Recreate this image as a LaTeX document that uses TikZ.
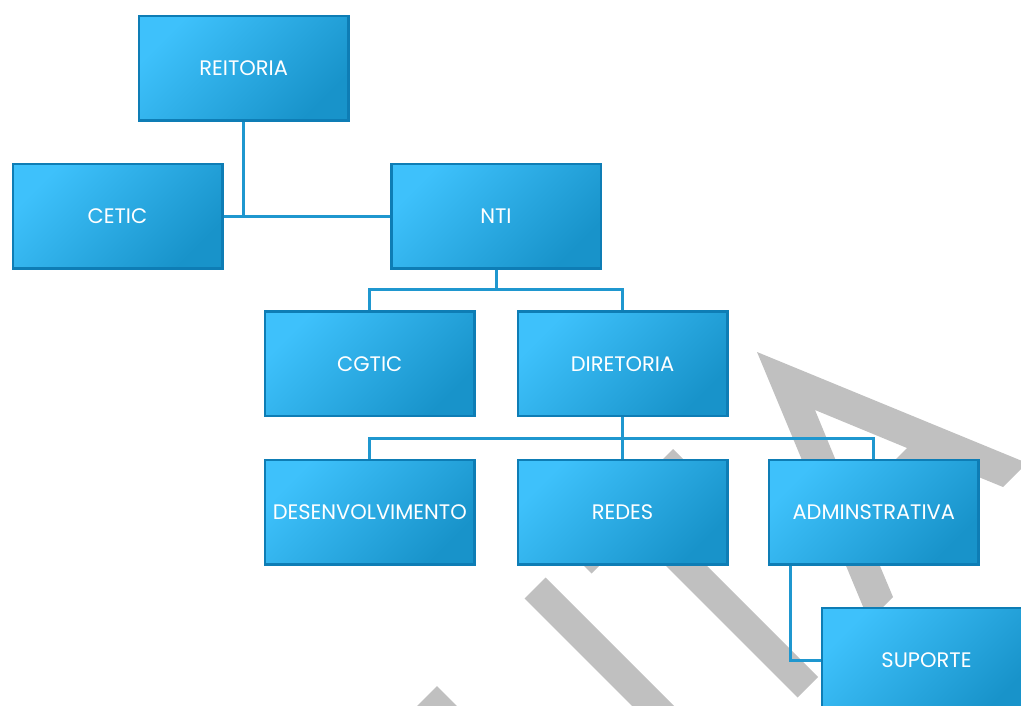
\documentclass[tikz,border=0pt]{standalone}
\usepackage{fontspec}
\setmainfont{Poppins}
\definecolor{boxlight}{HTML}{3EC1FB}
\definecolor{boxmid}{HTML}{35B6EE}
\definecolor{boxdark}{HTML}{1893CA}
\definecolor{boxborder}{HTML}{0E7DB5}
\definecolor{linkc}{HTML}{1F97CF}
\definecolor{wm}{HTML}{C0C0C0}
\tikzset{
  orgbox/.style={draw=boxborder, line width=2.5pt,
    top color=boxlight, middle color=boxmid, bottom color=boxdark, shading angle=45,
    minimum width=209.5pt, minimum height=104.5pt, inner sep=0pt,
    text=white, font=\fontsize{21}{23}\selectfont},
  link/.style={draw=linkc, line width=3pt},
  wmark/.style={fill=wm, draw=none}
}
\begin{document}
\begin{tikzpicture}[x=1pt,y=-1pt]
\useasboundingbox (0,0) rectangle (1021,706);
\clip (0,0) rectangle (1021,706);
% watermark letters
\path[wmark, even odd rule]
  (757,352) -- (1027,463) -- (1003,487) -- (937,460) -- (865.5,531.5) -- (893,597) -- (869,621) -- cycle
  (815,410) -- (907,448) -- (853,502) -- cycle;
\path[wmark] (673,449) -- (570,552) -- (591.5,573.5) -- (694.5,470.5) -- cycle;
\path[wmark] (631.5,490.5) -- (611,511) -- (797.5,697.5) -- (818,677) -- cycle;
\path[wmark] (545.5,577.5) -- (524.5,598.5) -- (713,787) -- (734,766) -- cycle;
\path[wmark] (437,686) -- (416,707) -- (604.5,895.5) -- (625.5,874.5) -- cycle;
% boxes
\node[orgbox] (reitoria) at (243.7,68.3) {REITORIA};
\node[orgbox] (cetic) at (117.5,216.3) {CETIC};
\node[orgbox] (nti) at (496,216.3) {NTI};
\node[orgbox] (cgtic) at (369.8,363.7) {CGTIC};
\node[orgbox] (diretoria) at (622.5,363.7) {DIRETORIA};
\node[orgbox] (desenv) at (369.8,512) {DESENVOLVIMENTO};
\node[orgbox] (redes) at (622.5,512) {REDES};
\node[orgbox] (admin) at (873.8,512) {ADMINSTRATIVA};
\node[orgbox] (suporte) at (926.5,660) {SUPORTE};
% connectors
\draw[link] (reitoria.south) -- (reitoria.south |- cetic.east);
\draw[link] (cetic.east) -- (nti.west);
\draw[link] (nti.south) -- ([yshift=-20pt]nti.south) -| (cgtic.north);
\draw[link] ([yshift=-20pt]nti.south) -| (diretoria.north);
\draw[link] (diretoria.south) -- ([yshift=-21pt]diretoria.south) -| (desenv.north);
\draw[link] ([yshift=-21pt]diretoria.south) -| (admin.north);
\draw[link] ([yshift=-21pt]diretoria.south) -- (redes.north);
\draw[link] ([xshift=23pt]admin.south west) |- (suporte.west);
\end{tikzpicture}
\end{document}
